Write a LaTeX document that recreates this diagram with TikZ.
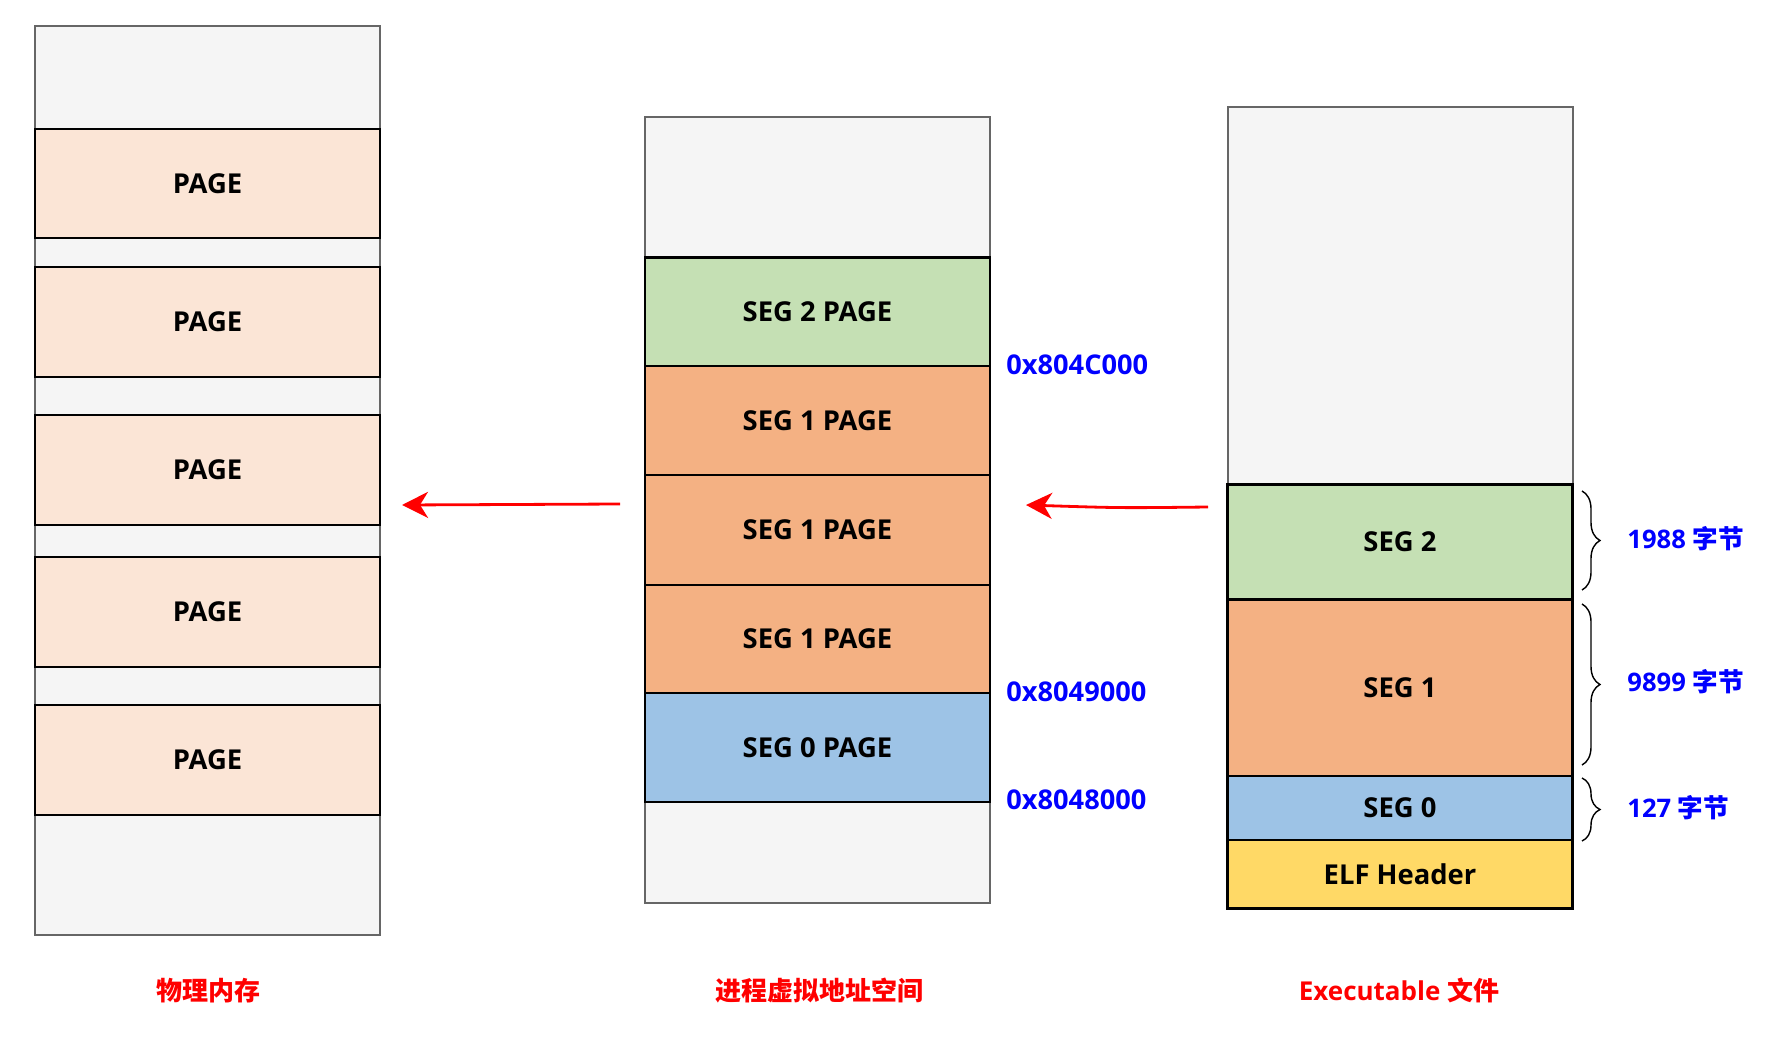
\documentclass[tikz,border=0pt]{standalone}
\usepackage{fontspec}
\setmainfont{Open Sans}
\newfontfamily\cjk{Noto Sans CJK SC}
\usetikzlibrary{arrows.meta,decorations.pathreplacing}
\definecolor{grayfill}{HTML}{F5F5F5}
\definecolor{grayline}{HTML}{666666}
\definecolor{pagefill}{HTML}{FBE5D6}
\definecolor{greenfill}{HTML}{C5E0B4}
\definecolor{orangefill}{HTML}{F4B183}
\definecolor{bluefill}{HTML}{9DC3E6}
\definecolor{yellowfill}{HTML}{FFD966}
\definecolor{addrblue}{HTML}{0000FF}
\definecolor{capred}{HTML}{FF0000}
\begin{document}
\begin{tikzpicture}[x=0.5pt,y=-0.5pt,
  column/.style={draw=grayline,line width=1pt,fill=grayfill,rectangle,inner sep=0pt,minimum width=172.5pt},
  block/.style={draw=black,line width=1.1pt,rectangle,inner sep=0pt,minimum width=172.5pt,font=\bfseries\fontsize{13.7}{16}\selectfont},
  addr/.style={anchor=west,text=addrblue,font=\bfseries\fontsize{13.6}{16}\selectfont,inner sep=0pt},
  size/.style={anchor=west,text=addrblue,font=\bfseries\fontsize{12.8}{15}\selectfont,inner sep=0pt},
  caption/.style={text=capred,font=\bfseries\fontsize{13}{15}\selectfont,inner sep=0pt},
  maparrow/.style={draw=capred,line width=1.4pt,-{Stealth[length=13pt,width=13pt,inset=4pt]}},
  sizebrace/.style={draw=black,line width=0.7pt,decorate,decoration={brace,amplitude=9pt}}
]
\useasboundingbox (0,0) rectangle (1784,1044);

% physical memory
\node[column,minimum height=454.5pt] (pm) at (207.5,480.5) {};
\node[block,fill=pagefill,minimum height=54.8pt] (p1) at (207.5,183.5) {PAGE};
\node[block,fill=pagefill,minimum height=54.8pt] (p2) at (207.5,322) {PAGE};
\node[block,fill=pagefill,minimum height=54.8pt] (p3) at (207.5,470) {PAGE};
\node[block,fill=pagefill,minimum height=54.8pt] (p4) at (207.5,612) {PAGE};
\node[block,fill=pagefill,minimum height=54.8pt] (p5) at (207.5,760) {PAGE};

% virtual address space
\node[column,minimum height=392.6pt] (vm) at (817.5,510) {};
\node[block,fill=greenfill,minimum height=54.3pt] (v2) at (817.5,311.7) {SEG 2 PAGE};
\node[block,fill=orangefill,minimum height=54.7pt] (v1a) at (817.5,420.5) {SEG 1 PAGE};
\node[block,fill=orangefill,minimum height=54.7pt] (v1b) at (817.5,530) {SEG 1 PAGE};
\node[block,fill=orangefill,minimum height=54.1pt] (v1c) at (817.5,638.8) {SEG 1 PAGE};
\node[block,fill=bluefill,minimum height=54.7pt] (v0) at (817.5,747.6) {SEG 0 PAGE};

\node[addr] (a1) at (1006,364.7) {0x804C000};
\node[addr] (a2) at (1006,691.8) {0x8049000};
\node[addr] (a3) at (1006,800) {0x8048000};

% executable file
\node[column,minimum height=400.6pt] (ef) at (1400,507.7) {};
\node[block,fill=greenfill,minimum height=57.6pt] (s2) at (1400,542) {SEG 2};
\node[block,fill=orangefill,minimum height=88.3pt] (s1) at (1400,687.8) {SEG 1};
\node[block,fill=bluefill,minimum height=32pt] (s0) at (1400,808) {SEG 0};
\node[block,fill=yellowfill,minimum height=34.2pt] (elf) at (1400,874.2) {ELF Header};

% braces
\coordinate (b1t) at (1582,491);
\coordinate (b1b) at (1582,590);
\coordinate (b2t) at (1582,604);
\coordinate (b2b) at (1582,765);
\coordinate (b3t) at (1582,778);
\coordinate (b3b) at (1582,841);
\draw[sizebrace] (b1t) -- (b1b);
\draw[sizebrace] (b2t) -- (b2b);
\draw[sizebrace] (b3t) -- (b3b);
\node[size] (l1) at (1627,539) {1988 {\cjk 字节}};
\node[size] (l2) at (1627,681.5) {9899 {\cjk 字节}};
\node[size] (l3) at (1627,808) {127 {\cjk 字节}};

% arrows
\coordinate (m1) at (620,504);
\coordinate (m2) at (402,505);
\coordinate (e1) at (1208,507);
\coordinate (e2) at (1026,505);
\draw[maparrow] (m1) -- (m2);
\draw[maparrow] (e1) .. controls (1120,508) .. (e2);

% captions
\node[caption] (c1) at (208,990.4) {\cjk 物理内存};
\node[caption] (c2) at (819,990.4) {\cjk 进程虚拟地址空间};
\node[caption] (c3) at (1399,990.4) {Executable {\cjk 文件}};
\end{tikzpicture}
\end{document}
